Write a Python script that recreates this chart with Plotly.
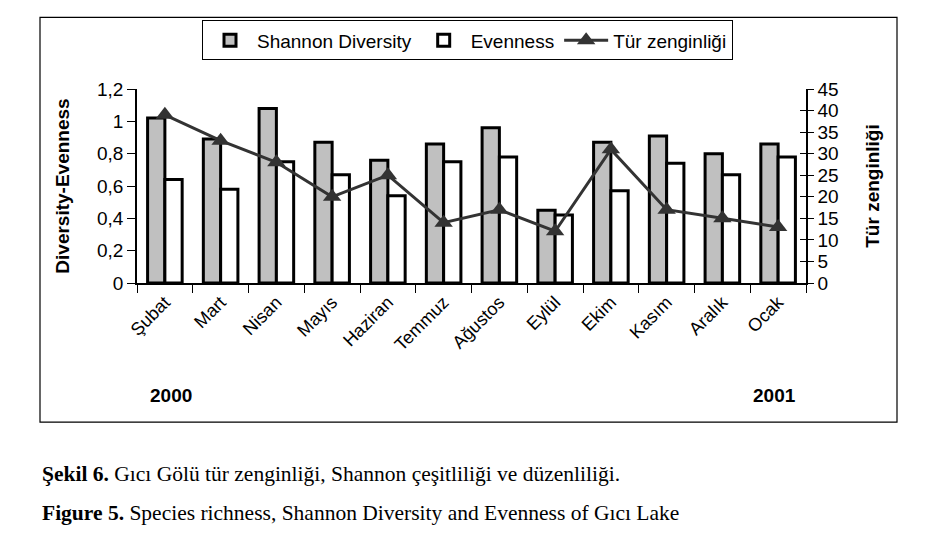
import plotly.graph_objects as go

months = ["Şubat", "Mart", "Nisan", "Mayıs", "Haziran", "Temmuz", "Ağustos",
          "Eylül", "Ekim", "Kasım", "Aralık", "Ocak"]
shannon = [1.02, 0.89, 1.08, 0.87, 0.76, 0.86, 0.96, 0.45, 0.87, 0.91, 0.80, 0.86]
evenness = [0.64, 0.58, 0.75, 0.67, 0.54, 0.75, 0.78, 0.42, 0.57, 0.74, 0.67, 0.78]
richness = [39, 33, 28, 20, 25, 14, 17, 12, 31, 17, 15, 13]
left_ticks = [0, 0.2, 0.4, 0.6, 0.8, 1.0, 1.2]
right_ticks = [0, 5, 10, 15, 20, 25, 30, 35, 40, 45]

OFF = 8  # page body margin
W, H = 937 - OFF, 542 - OFF
L, R, T, B = 137 - OFF, 806 - OFF, 85 - OFF, 283 - OFF
pw, ph = R - L, B - T

def px(x):
    return (x - OFF - L) / pw

def py(y):
    return (B - (y - OFF)) / ph

font = "Liberation Sans, Arial, sans-serif"
serif = "Liberation Serif, Times New Roman, serif"

fig = go.Figure()
fig.add_trace(go.Bar(x=months, y=shannon, name="Shannon Diversity",
                     marker=dict(color="#c0c0c0", line=dict(color="black", width=3))))
fig.add_trace(go.Bar(x=months, y=evenness, name="Evenness",
                     marker=dict(color="white", line=dict(color="black", width=3))))
fig.add_trace(go.Scatter(x=months, y=richness, name="Tür zenginliği", yaxis="y2",
                         mode="lines+markers",
                         line=dict(color="#333333", width=3),
                         marker=dict(symbol="triangle-up", size=16, color="#333333")))
# invisible trace to activate the inner-tick overlay axis
fig.add_trace(go.Scatter(x=[months[0]], y=[0], yaxis="y3", mode="markers",
                         marker=dict(opacity=0), showlegend=False, hoverinfo="skip"))

fig.update_layout(
    width=W, height=H,
    margin=dict(l=L, r=W - R, t=T, b=H - B),
    paper_bgcolor="white", plot_bgcolor="white",
    separators=", ",
    font=dict(family=font, size=18, color="black"),
    barmode="group", bargap=0.38, bargroupgap=0,
    showlegend=True,
    legend=dict(orientation="h", x=px(202), y=py(15), xanchor="left", yanchor="top",
                bordercolor="black", borderwidth=1, bgcolor="white",
                font=dict(size=19), traceorder="normal", itemwidth=44),
    xaxis=dict(range=[-0.5, len(months) - 0.5], showline=True, linecolor="black",
               linewidth=1.5, ticks="outside",
               tickson="boundaries", ticklen=8, tickcolor="black", tickangle=-45,
               showgrid=False, tickfont=dict(size=18), automargin=False),
    yaxis=dict(range=[0, 1.2], tickvals=left_ticks, showline=True, linecolor="black",
               linewidth=1.5, ticks="outside", ticklen=8, tickcolor="black",
               showgrid=False, zeroline=False, automargin=False,
               title=dict(text="<b>Diversity-Evenness</b>", font=dict(size=19), standoff=22),
               tickfont=dict(size=19)),
    yaxis2=dict(range=[0, 45], tickvals=right_ticks, overlaying="y", side="right",
                showline=True, linecolor="black", linewidth=1.5, ticks="outside",
                ticklen=6, tickcolor="black", showgrid=False, zeroline=False,
                automargin=False,
                title=dict(text="<b>Tür zenginliği</b>", font=dict(size=19), standoff=28),
                tickfont=dict(size=19)),
    yaxis3=dict(range=[0, 45], tickvals=right_ticks, overlaying="y", side="right",
                showline=False, ticks="inside", ticklen=6, tickcolor="black",
                showticklabels=False, showgrid=False, zeroline=False, automargin=False),
    shapes=[dict(type="rect", xref="paper", yref="paper",
                 x0=px(40), x1=px(897), y0=py(425), y1=py(12),
                 line=dict(color="black", width=1.2), fillcolor="rgba(0,0,0,0)", layer="below")],
    annotations=[
        dict(text="<b>2000</b>", xref="paper", yref="paper", x=px(171), y=py(398),
             xanchor="center", yanchor="middle", showarrow=False, font=dict(size=19)),
        dict(text="<b>2001</b>", xref="paper", yref="paper", x=px(774), y=py(398),
             xanchor="center", yanchor="middle", showarrow=False, font=dict(size=19)),
        dict(text="<b>Şekil 6.</b> Gıcı Gölü tür zenginliği, Shannon çeşitliliği ve düzenliliği.",
             xref="paper", yref="paper", x=px(40), y=py(478), xanchor="left", yanchor="middle",
             showarrow=False, font=dict(family=serif, size=21.5)),
        dict(text="<b>Figure 5.</b> Species richness, Shannon Diversity and Evenness of Gıcı Lake",
             xref="paper", yref="paper", x=px(40), y=py(518), xanchor="left", yanchor="middle",
             showarrow=False, font=dict(family=serif, size=21.5)),
    ],
)

fig.write_html("out.html")
